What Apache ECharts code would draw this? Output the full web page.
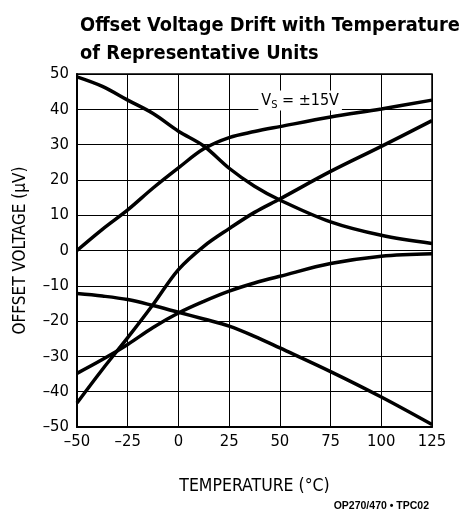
<!DOCTYPE html>
<html>
<head>
<meta charset="utf-8">
<script src="https://cdn.jsdelivr.net/npm/echarts@6/dist/echarts.min.js"></script>
<style>
html,body{margin:0;padding:0;background:#fff;}
#chart{width:469px;height:510px;}
</style>
</head>
<body>
<div id="chart"></div>
<script>
// Data
var temps = [-50, -37.5, -25, -12.5, 0, 12.5, 25, 37.5, 50, 75, 100, 125];
var unitA = [49.2, 46.5, 42.6, 38.8, 33.8, 29.6, 23.3, 18.2, 14.3, 8.1, 4.3, 2.0];
var unitB = [0.0, 6.0, 11.5, 17.7, 23.4, 28.8, 32.0, 33.7, 35.1, 37.8, 40.1, 42.6];
var unitC = [-43.2, -33.7, -24.7, -15.3, -5.4, 1.2, 6.2, 10.8, 14.6, 22.4, 29.5, 36.8];
var unitD = [-34.8, -30.9, -26.6, -21.8, -17.7, -14.4, -11.5, -9.2, -7.3, -3.7, -1.6, -0.9];
var unitE = [-12.2, -12.9, -13.9, -15.6, -17.5, -19.4, -21.4, -24.3, -27.6, -34.3, -41.5, -49.3];
var xTicks = [-50, -25, 0, 25, 50, 75, 100, 125];
var yTicks = [-50, -40, -30, -20, -10, 0, 10, 20, 30, 40, 50];

var FONT = '"DejaVu Sans Condensed", "Liberation Sans Narrow", "Liberation Sans", Arial, sans-serif';
var FONT2 = '"Liberation Sans", Arial, sans-serif';
function pairs(vals){ return temps.map(function(t,i){ return [t, vals[i]]; }); }
function dash(v){ return String(v).replace('-', '\u2013'); }

// fit title width (~380px) with whatever font is available
var titleText1 = 'Offset Voltage Drift with Temperature';
var cv = document.createElement('canvas').getContext('2d');
cv.font = 'bold 25px ' + FONT;
var tw = cv.measureText(titleText1).width;
var titleSize = Math.min(27, Math.max(18, 25 * 380 / tw));

var chart = echarts.init(document.getElementById('chart'), null, {renderer:'canvas'});
var lineSeries = [unitA, unitB, unitC, unitD, unitE].map(function(v){
  return {
    type: 'line', data: pairs(v), smooth: 0.35, symbol: 'none',
    lineStyle: {color: '#000', width: 3.5}, silent: true, animation: false
  };
});

chart.setOption({
  animation: false,
  backgroundColor: '#fff',
  title: {
    text: titleText1 + '\nof Representative Units',
    left: 75, top: 7,
    textStyle: {fontFamily: FONT, fontWeight: 'bold', fontSize: titleSize, lineHeight: 28, color: '#000'}
  },
  grid: {left: 77, top: 74, width: 355, height: 353, show: true, borderColor: '#000', borderWidth: 1.5, backgroundColor: 'transparent'},
  xAxis: {
    type: 'value', min: xTicks[0], max: xTicks[xTicks.length-1], interval: 25,
    name: 'TEMPERATURE (°C)', nameLocation: 'middle', nameGap: 50,
    nameTextStyle: {fontFamily: FONT, fontSize: 17.5, color: '#000'},
    axisLine: {show: true, onZero: false, lineStyle: {color: '#000', width: 2}},
    axisTick: {show: false},
    splitLine: {show: true, lineStyle: {color: '#000', width: 1}},
    axisLabel: {fontFamily: FONT, fontSize: 16.5, color: '#000', margin: 6, formatter: dash}
  },
  yAxis: {
    type: 'value', min: yTicks[0], max: yTicks[yTicks.length-1], interval: 10,
    name: 'OFFSET VOLTAGE (µV)', nameLocation: 'middle', nameGap: 48,
    nameTextStyle: {fontFamily: FONT, fontSize: 17, color: '#000'},
    axisLine: {show: true, onZero: false, lineStyle: {color: '#000', width: 2}},
    axisTick: {show: false},
    splitLine: {show: true, lineStyle: {color: '#000', width: 1}},
    axisLabel: {fontFamily: FONT, fontSize: 16.5, color: '#000', margin: 8, formatter: dash}
  },
  series: lineSeries
});

var p = chart.convertToPixel({gridIndex: 0}, [60, 42.5]);
chart.setOption({
  graphic: [
    {
      type: 'text', x: p[0], y: p[1], z: 100,
      style: {
        text: '{a|V}{s|S}{a| = ±15V}',
        align: 'center', verticalAlign: 'middle',
        backgroundColor: '#fff', padding: [0, 3, 0, 3],
        rich: {
          a: {fontFamily: FONT, fontSize: 16, color: '#000', lineHeight: 20},
          s: {fontFamily: FONT, fontSize: 11, color: '#000', lineHeight: 20, padding: [9, 0, 0, 0]}
        }
      }
    },
    {
      type: 'text', right: 40, top: 501,
      style: {text: 'OP270/470 • TPC02', fontFamily: FONT2, fontWeight: 'bold', fontSize: 10.5, fill: '#000'}
    }
  ]
});
</script>
</body>
</html>
